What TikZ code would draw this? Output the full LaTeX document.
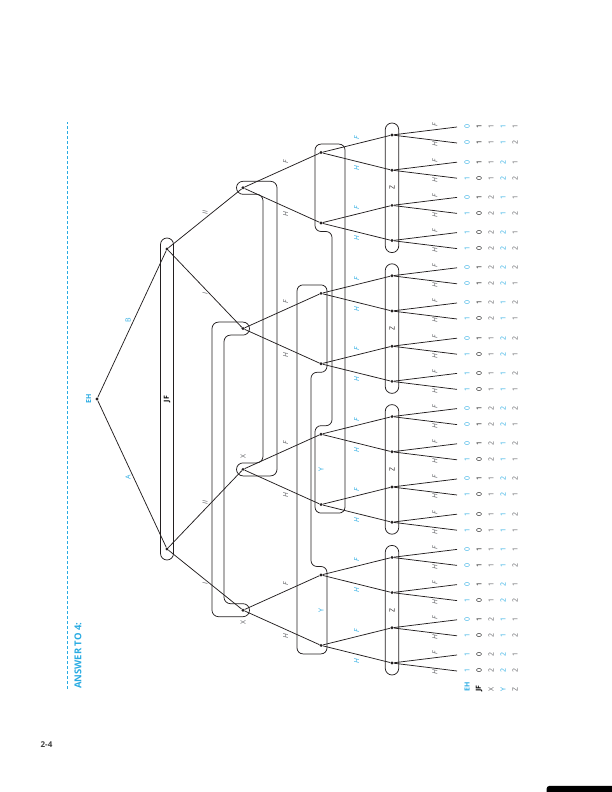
\documentclass[tikz,border=0pt]{standalone}
\usepackage{fontspec}
\setmainfont{Open Sans}
\usetikzlibrary{positioning}

\definecolor{ansblue}{HTML}{29ABE2}
\definecolor{lblgray}{HTML}{5F6064}
\definecolor{linegray}{HTML}{231F20}

\tikzset{
  edge/.style={draw=linegray, line width=0.75pt},
  infoset/.style={draw=linegray, line width=0.75pt, rounded corners=6pt},
  dot/.style={circle, fill=linegray, inner sep=0pt, minimum size=3.2pt},
  movelbl/.style={font=\fontsize{7}{8}\selectfont\itshape, text=lblgray, inner sep=1pt},
  ymovelbl/.style={movelbl, text=ansblue},
  chancelbl/.style={font=\fontsize{7}{8}\selectfont, text=ansblue, inner sep=1pt},
  setlbl/.style={font=\fontsize{7}{8}\selectfont, text=lblgray, inner sep=0pt},
  pay/.style={font=\fontsize{7}{8}\selectfont, inner sep=0pt},
}

\begin{document}
\begin{tikzpicture}[x=1pt, y=1pt]
\useasboundingbox (0,0) rectangle (612,792);
\begin{scope}[shift={(97,393)}, rotate=90, transform shape]
  % heading
  \draw[draw=ansblue, line width=0.9pt, dash pattern=on 3pt off 2pt] (-290,30) -- (277,30);
  \node[anchor=west, inner sep=0pt, font=\fontsize{9.5}{11}\selectfont\bfseries, text=ansblue] (answer) at (-290,19) {ANSWER TO 4:};

  % decision nodes
  \node[dot] (root) at (0,0) {};
  \node[chancelbl, font=\fontsize{7}{8}\selectfont\bfseries] (ehname) at (0,8.5) {EH};
  \node[dot] (jfA) at (-150,-70) {};
  \node[dot] (jfB) at (150,-70) {};
  \foreach \n in {1,...,4}
    \node[dot] (x\n) at ({-211.2+140.8*(\n-1)},-146) {};
  \foreach \m in {1,...,8}
    \node[dot] (y\m) at ({-246.4+70.4*(\m-1)},-224) {};
  \foreach \k in {1,...,16}
    \node[dot] (z\k) at ({-264+35.2*(\k-1)},-295) {};

  % information sets
  \draw[infoset, rounded corners=6.5pt] (-161,-76.5) rectangle (161,-63.5);
  \node[setlbl, font=\fontsize{7}{8}\selectfont\bfseries, text=black] (jfname) at (0,-70) {JF};

  \draw[infoset, rounded corners=6.5pt] (70,-180) -- (-76.9,-180) -- (-76.9,-139.5) -- (-63.9,-139.5)
    -- (-63.9,-166) -- (204.7,-166) -- (204.7,-139.5) -- (217.7,-139.5) -- (217.7,-180) -- cycle;
  \draw[infoset, rounded corners=6.5pt] (-70,-115) -- (-217.7,-115) -- (-217.7,-152.5) -- (-204.7,-152.5)
    -- (-204.7,-127) -- (63.9,-127) -- (63.9,-152.5) -- (76.9,-152.5) -- (76.9,-115) -- cycle;
  \node[setlbl] (xnameA) at (-57.7,-146) {X};
  \node[setlbl] (xnameB) at (-223.7,-146) {X};

  \draw[infoset] (70,-248) -- (-114.1,-248) -- (-114.1,-218) -- (-26.7,-218) -- (-26.7,-235)
    -- (167.5,-235) -- (167.5,-218) -- (254.9,-218) -- (254.9,-248) -- cycle;
  \draw[infoset] (-70,-200) -- (-254.9,-200) -- (-254.9,-230) -- (-167.5,-230) -- (-167.5,-214)
    -- (26.7,-214) -- (26.7,-230) -- (114.1,-230) -- (114.1,-200) -- cycle;
  \node[setlbl, text=ansblue] (ynameA) at (-70.4,-224) {Y};
  \node[setlbl, text=ansblue] (ynameB) at (-211.2,-224) {Y};

  \foreach \g in {0,...,3} {
    \draw[infoset, rounded corners=6.75pt] ({-276+140.8*\g},-301.75) rectangle ({-146.4+140.8*\g},-288.25);
    \node[setlbl, text=linegray] (zname\g) at ({-211.2+140.8*\g},-295) {Z};
  }

  % moves
  \draw[edge] (root) -- node[chancelbl, above left] {A} (jfA);
  \draw[edge] (root) -- node[chancelbl, above right] {B} (jfB);
  \draw[edge] (jfA) -- node[movelbl, left=2pt] {I} (x1);
  \draw[edge] (jfA) -- node[movelbl, right=3pt] {II} (x2);
  \draw[edge] (jfB) -- node[movelbl, left=2pt] {I} (x3);
  \draw[edge] (jfB) -- node[movelbl, right=3pt] {II} (x4);
  \foreach \n [evaluate=\n as \l using int(2*\n-1), evaluate=\n as \r using int(2*\n)] in {1,...,4} {
    \draw[edge] (x\n) -- node[movelbl, pos=0.55, left=3pt] {H} (y\l);
    \draw[edge] (x\n) -- node[movelbl, pos=0.55, right=4pt] {F} (y\r);
  }
  \foreach \m [evaluate=\m as \l using int(2*\m-1), evaluate=\m as \r using int(2*\m)] in {1,...,8} {
    \draw[edge] (y\m) -- node[ymovelbl, left=3pt] {H} (z\l);
    \draw[edge] (y\m) -- node[ymovelbl, right=3pt] {F} (z\r);
  }
  \foreach \k in {1,...,16} {
    \coordinate (h\k) at ({-272+35.2*(\k-1)},-360);
    \coordinate (f\k) at ({-256+35.2*(\k-1)},-360);
    \draw[edge] (z\k) -- node[movelbl, pos=0.65, left=0.5pt] {H} (h\k);
    \draw[edge] (z\k) -- node[movelbl, pos=0.65, right=1.5pt] {F} (f\k);
  }

  % payoffs
  \foreach \a/\b/\c/\d/\e [count=\i] in {
      1/0/2/2/2, 1/0/2/2/1, 1/0/2/1/2, 0/1/2/1/1, 1/0/1/2/2, 0/1/1/2/1, 0/1/1/1/2, 0/1/1/1/1,
      1/0/1/1/1, 1/0/1/1/2, 1/0/1/2/1, 0/1/1/2/2, 1/0/2/1/1, 0/1/2/1/2, 0/1/2/2/1, 0/1/2/2/2,
      1/0/1/1/1, 1/0/1/1/2, 1/0/1/2/1, 0/1/1/2/2, 1/0/2/1/1, 0/1/2/1/2, 0/1/2/2/1, 0/1/2/2/2,
      1/0/2/2/2, 1/0/2/2/1, 1/0/2/1/2, 0/1/2/1/1, 1/0/1/2/2, 0/1/1/2/1, 0/1/1/1/2, 0/1/1/1/1} {
    \pgfmathsetmacro{\u}{-272+35.2*int((\i-1)/2)+16*mod(\i-1,2)}
    \node[pay, text=ansblue] (payEH\i) at (\u,-370) {\a};
    \node[pay, text=black] (payJF\i) at (\u,-382) {\b};
    \node[pay, text=lblgray] (payX\i) at (\u,-394) {\c};
    \node[pay, text=ansblue] (payY\i) at (\u,-406) {\d};
    \node[pay, text=lblgray] (payZ\i) at (\u,-418) {\e};
  }
  \node[pay, anchor=west, font=\fontsize{7}{8}\selectfont\bfseries, text=ansblue] (rowEH) at (-293,-370) {EH};
  \node[pay, anchor=west, font=\fontsize{7}{8}\selectfont\bfseries, text=black] (rowJF) at (-293,-382) {JF};
  \node[pay, anchor=west, text=lblgray] (rowX) at (-293,-394) {X};
  \node[pay, anchor=west, text=ansblue] (rowY) at (-293,-406) {Y};
  \node[pay, anchor=west, text=lblgray] (rowZ) at (-293,-418) {Z};
\end{scope}

% page furniture
\node[font=\fontsize{8}{9}\selectfont\bfseries, text=black!75] (pagenum) at (46.5,47) {2-4};
\fill[black, rounded corners=2.5pt] (546.7,-4) rectangle (620,6);
\end{tikzpicture}
\end{document}
